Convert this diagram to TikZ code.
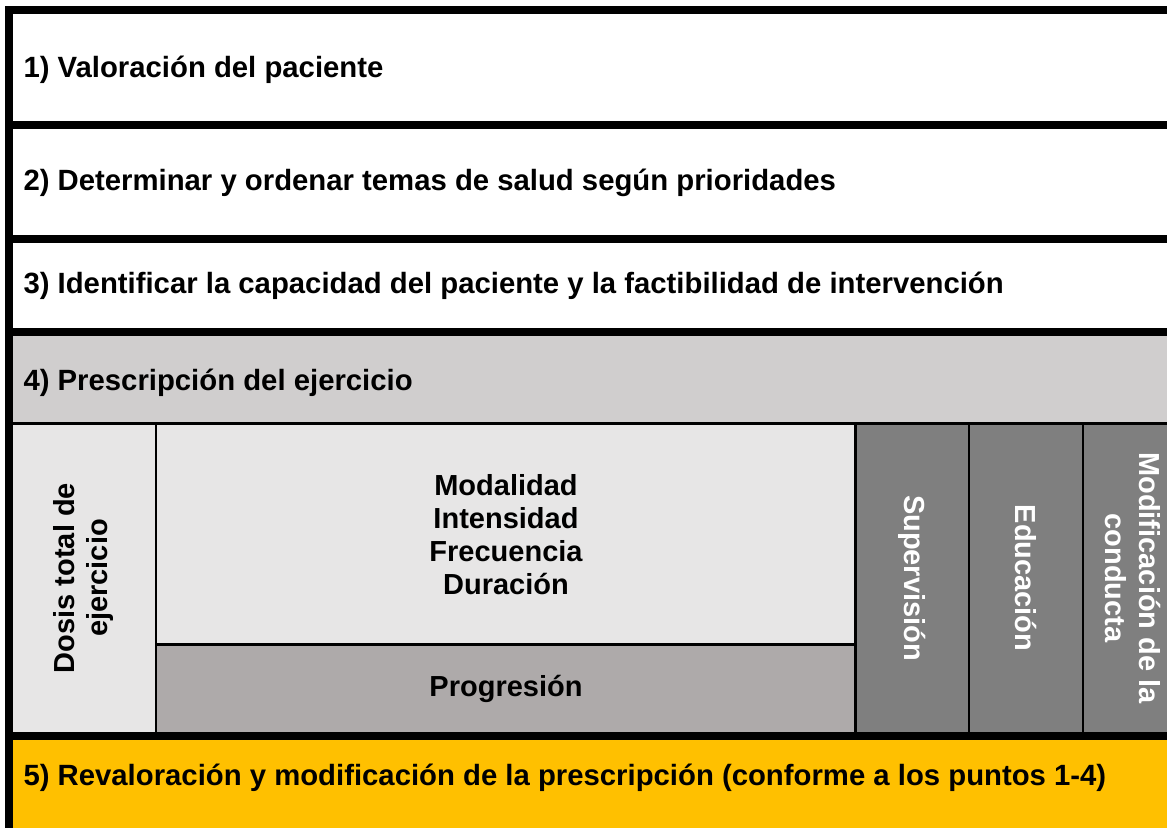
\documentclass[tikz,border=0pt]{standalone}
\usepackage{fontspec}
\setmainfont{Liberation Sans}
\definecolor{hdrgray}{HTML}{D0CECE}
\definecolor{lightgray}{HTML}{E7E6E6}
\definecolor{midgray}{HTML}{AEAAAA}
\definecolor{darkgray}{HTML}{7F7F7F}
\definecolor{revorange}{HTML}{FFC000}
\tikzset{
  steptext/.style={anchor=west, font=\fontsize{29.3}{33}\selectfont\bfseries},
  celltext/.style={align=center, font=\fontsize{29}{33}\selectfont\bfseries},
  sidetext/.style={align=center, text=white, font=\fontsize{29}{34}\selectfont\bfseries},
  thickrule/.style={line width=8pt},
  thinrule/.style={line width=2.5pt}
}
\begin{document}
\begin{tikzpicture}[x=1pt, y=-1pt]
                \useasboundingbox (0,0) rectangle (1167,828);
                % fills
                \fill [hdrgray] (9,332) rectangle (1167,423.5);
                \fill [lightgray] (9,423.5) rectangle (855.5,736);
                \fill [midgray] (156,644.5) rectangle (855.5,736);
                \fill [darkgray] (855.5,423.5) rectangle (1167,736);
                \fill [revorange] (9,736) rectangle (1167,828);
                % rules
                \draw [thickrule] (9,10) -- (1167,10);
                \draw [thickrule] (9,6) -- (9,828);
                \foreach \y in {124.5, 239, 332, 736}
                    \draw [thickrule] (9,\y) -- (1167,\y);
                \draw [thinrule] (13,423.5) -- (1167,423.5);
                \draw [thinrule] (156,644.5) -- (855.5,644.5);
                \foreach \x in {156, 855.5, 969, 1083}
                    \draw [thinrule] (\x,423.5) -- (\x,732);
                % texts
                \node [steptext] (s1) at (20,70) {1) Valoración del paciente};
                \node [steptext] (s2) at (20,183) {2) Determinar y ordenar temas de salud según prioridades};
                \node [steptext] (s3) at (20,286) {3) Identificar la capacidad del paciente y la factibilidad de intervención};
                \node [steptext] (s4) at (20,383) {4) Prescripción del ejercicio};
                \node [steptext] (s5) at (20,778) {5) Revaloración y modificación de la prescripción (conforme a los puntos 1-4)};
                \node [celltext, rotate=90] (dose) at (84,578) {Dosis total de\\ejercicio};
                \node [celltext] (params) at (506,535) {Modalidad\\Intensidad\\Frecuencia\\Duración};
                \node [celltext] (prog) at (506,689) {Progresión};
                \node [sidetext, rotate=-90] (sup) at (912,578) {Supervisión};
                \node [sidetext, rotate=-90] (edu) at (1026,578) {Educación};
                \node [sidetext, rotate=-90] (mod) at (1133,578) {Modificación de la\\conducta};
\end{tikzpicture}
\end{document}
